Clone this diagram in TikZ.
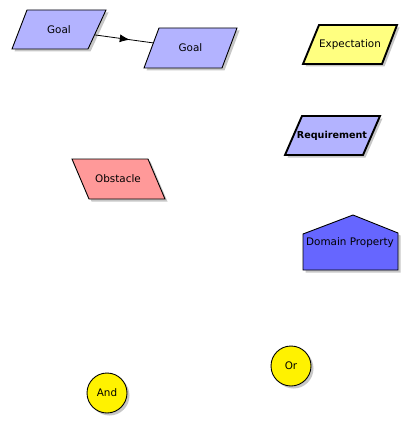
\documentclass[tikz,border=0pt]{standalone}
\usepackage{fontspec}
\setmainfont{DejaVu Sans}
\usetikzlibrary{arrows.meta,decorations.markings,shadows}

\definecolor{goalblue}{RGB}{179,179,255}
\definecolor{expyellow}{RGB}{255,255,128}
\definecolor{obsred}{RGB}{255,153,153}
\definecolor{domblue}{RGB}{102,102,255}

\tikzset{
  kaos/.style={draw=black, line width=0.9pt, line join=miter,
    drop shadow={shadow xshift=2.5pt, shadow yshift=-2.5pt, fill=black, opacity=0.22}},
  kaosthick/.style={kaos, line width=1.9pt},
  lbl/.style={inner sep=0pt, outer sep=0pt},
  refine/.style={draw, line width=0.8pt, postaction={decorate},
    decoration={markings, mark=at position 0.6 with {\arrow{Latex[length=10pt,width=8pt]}}}},
  refnode/.style={circle, draw=black, line width=0.9pt, fill=yellow, minimum size=40pt, inner sep=0pt,
    drop shadow={shadow xshift=2.5pt, shadow yshift=-2.5pt, fill=black, opacity=0.22}}
}

\begin{document}
\begin{tikzpicture}[x=1pt,y=-1pt,font=\fontsize{10.4}{12}\selectfont]
\useasboundingbox (0,0) rectangle (411,425);

% goals and refinement
\draw[kaos, fill=goalblue] (27,10) -- (106,10) -- (88,49) -- (12,49) -- cycle;
\draw[kaos, fill=goalblue] (159,28) -- (237,28) -- (222,68) -- (144,68) -- cycle;
\node[lbl, minimum width=72pt, minimum height=30pt] (goalA) at (59,30) {Goal};
\node[lbl, minimum width=75pt, minimum height=30pt] (goalB) at (190.5,48) {Goal};
\draw[refine] (goalA) -- (goalB);

% expectation, requirement
\draw[kaosthick, fill=expyellow] (319,25) -- (397,25) -- (382,64) -- (303,64) -- cycle;
\node[lbl] (expect) at (350,44.5) {Expectation};
\draw[kaosthick, fill=goalblue] (302,116) -- (380,116) -- (363,155) -- (285,155) -- cycle;
\node[lbl, font=\fontsize{9.6}{12}\selectfont\bfseries] (req) at (332,136) {Requirement};

% obstacle
\draw[kaos, fill=obsred] (72,159) -- (148,159) -- (165,199) -- (89,199) -- cycle;
\node[lbl] (obst) at (118,179) {Obstacle};

% domain property
\draw[kaos, fill=domblue] (303,270) -- (303,234) -- (353,215) -- (398,233) -- (398,270) -- cycle;
\node[lbl] (domProp) at (350,243) {Domain Property};

% refinement nodes
\node[refnode] (orNode) at (291,366) {Or};
\node[refnode] (andNode) at (107,393) {And};
\end{tikzpicture}
\end{document}
